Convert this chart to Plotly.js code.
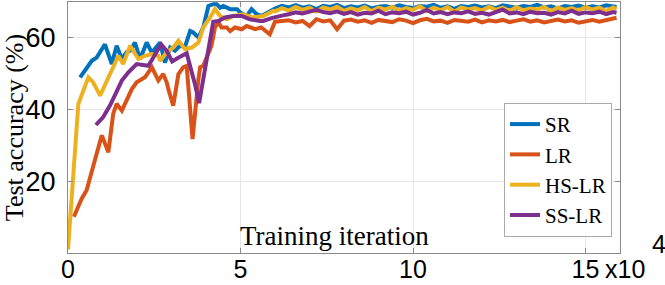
<!DOCTYPE html>
<html>
<head>
<meta charset="utf-8">
<script src="https://cdn.plot.ly/plotly-3.0.1.min.js"></script>
<style>html,body{margin:0;padding:0;background:#fff;}#chart{width:665px;height:285px;}</style>
</head>
<body>
<div id="chart"></div>
<script>
// x values are in units of 10^4 training iterations
var seriesNames = ["SR", "LR", "HS-LR", "SS-LR"];
var xTicks = [0, 5, 10, 15];
var xTickLabels = ["0", "5", "10", "15"];
var yTicks = [20, 40, 60];
var yTickLabels = ["20", "40", "60"];

var srXEarly = [0.35,0.49,0.69,0.83,0.93,1.07,1.27,1.41,1.56,1.70,1.80,1.94,2.09,2.28,2.43,2.57,2.67,2.81,2.96,3.10,3.25,3.39,3.54,3.63,3.78,3.92,4.07,4.21,4.31,4.41,4.50,4.70,4.90,4.99,5.18,5.32,5.47,5.61,5.85];
var srYEarly = [49.0,50.8,53.6,54.5,55.9,58.2,52.7,57.8,54.1,56.0,56.4,58.7,54.1,58.7,55.9,57.8,58.7,53.1,57.3,56.4,57.8,57.5,61.9,61.5,60.1,62.9,68.9,69.4,69.4,68.4,68.9,68.0,68.0,67.1,66.1,68.0,66.6,66.1,67.5];

var lrXEarly = [0.17,0.30,0.40,0.54,0.73,0.83,0.98,1.17,1.31,1.41,1.56,1.70,1.85,1.99,2.23,2.43,2.62,2.76,2.86,2.91,3.05,3.20,3.34,3.44,3.61,3.78,3.83,3.92,4.07,4.16,4.26,4.36,4.45,4.60,4.70,4.84,5.03,5.18,5.43,5.60,5.85];
var lrYEarly = [10.1,12.9,15.2,17.5,24.9,27.7,32.8,28.1,38.8,41.6,39.7,42.5,45.7,47.6,49.0,51.8,48.1,49.9,47.6,45.7,41.1,49.9,51.8,52.2,31.8,48.5,51.8,52.2,55.5,57.8,62.9,64.3,62.9,62.9,61.9,62.9,62.4,63.3,62.4,62.9,61.0];

var hsXEarly = [0.00,0.30,0.59,0.73,0.93,1.17,1.31,1.46,1.60,1.80,2.04,2.23,2.43,2.62,2.67,2.86,3.05,3.20,3.39,3.59,3.78,3.92,4.12,4.26,4.41,4.60,4.79,4.99,5.08,5.37,5.66,5.95];
var hsYEarly = [1.0,41.6,49.0,47.6,43.9,49.0,52.2,55.0,52.7,57.8,54.1,55.0,55.5,55.0,53.6,55.9,57.3,59.2,56.9,57.3,58.7,62.9,65.7,68.0,66.1,65.2,66.1,66.6,66.6,65.7,66.1,67.5];

var ssXEarly = [0.81,1.02,1.22,1.56,1.75,1.99,2.33,2.47,2.70,2.86,3.02,3.17,3.44,3.68,3.80,4.21,4.36,4.55,4.79,5.03,5.27,5.57,5.66,5.90];
var ssYEarly = [35.7,37.9,41.2,48.1,50.4,52.7,52.2,54.5,58.2,56.4,53.4,54.3,55.7,47.1,41.8,64.5,64.7,65.7,66.1,66.1,65.2,64.7,64.7,65.5];

var xLate = [6.0,6.2,6.4,6.6,6.8,7.0,7.2,7.4,7.6,7.8,8.0,8.2,8.4,8.6,8.8,9.0,9.2,9.4,9.6,9.8,10.0,10.2,10.4,10.6,10.8,11.0,11.2,11.4,11.6,11.8,12.0,12.2,12.4,12.6,12.8,13.0,13.2,13.4,13.6,13.8,14.0,14.2,14.4,14.6,14.8,15.0,15.2,15.4,15.6,15.8,15.9];
var srYLate = [68.2,68.9,68.5,69.1,68.4,68.8,68.0,68.9,68.6,69.2,68.3,68.8,68.5,69.0,68.2,68.7,68.9,68.4,69.1,68.6,68.3,68.9,68.7,69.2,68.4,68.8,68.1,68.9,68.6,69.0,68.5,68.8,68.3,69.1,68.7,68.4,68.9,68.6,69.2,68.5,68.8,68.2,68.9,68.6,69.0,68.4,68.8,68.5,69.1,68.7,68.6];
var lrYLate = [64.5,64.7,64.9,64.3,64.7,63.3,65.2,64.6,64.9,62.4,64.8,65.1,64.5,64.9,64.2,65.0,64.7,64.4,65.2,64.8,64.1,64.9,65.3,64.6,64.8,64.2,65.0,64.7,64.5,65.1,64.3,64.9,64.6,65.0,64.4,64.8,65.2,64.5,64.9,64.3,64.8,65.1,64.6,64.9,64.2,64.7,65.0,64.5,64.9,65.2,65.6];
var hsYLate = [67.4,68.3,67.6,68.6,67.8,68.4,67.3,68.5,67.9,68.7,67.5,68.2,67.7,68.6,67.4,68.4,67.9,68.7,67.6,68.3,67.8,68.8,67.5,68.4,67.7,68.6,67.3,68.5,67.9,68.3,67.6,68.7,67.8,68.4,67.5,68.6,67.7,68.2,67.9,68.7,67.4,68.5,67.8,68.3,67.6,68.6,67.9,68.4,67.5,68.5,68.0];
var ssYLate = [65.8,66.2,66.6,67.1,66.8,67.3,67.8,67.2,66.9,67.4,66.7,67.2,66.5,67.0,66.8,67.6,66.6,67.1,66.9,67.3,66.5,67.0,67.8,66.8,67.2,66.6,67.1,66.9,67.4,66.7,67.0,66.5,67.2,67.9,66.8,67.1,66.6,67.3,66.9,67.0,66.5,67.2,66.8,67.6,66.7,67.1,66.9,67.3,66.6,67.2,67.0];

var colors = ["#0072BD", "#D95319", "#EDB120", "#7E2F8E"];
var xs = [srXEarly.concat(xLate), lrXEarly.concat(xLate), hsXEarly.concat(xLate), ssXEarly.concat(xLate)];
var ys = [srYEarly.concat(srYLate), lrYEarly.concat(lrYLate), hsYEarly.concat(hsYLate), ssYEarly.concat(ssYLate)];

var traces = seriesNames.map(function (n, i) {
  return {x: xs[i], y: ys[i], name: n, type: "scatter", mode: "lines",
          line: {color: colors[i], width: 4}};
});

var serif = "Liberation Serif, Times New Roman, serif";
var sans = "Liberation Sans, Arial, sans-serif";
var axisCol = "#8a8a8a";

var layout = {
  width: 665, height: 285,
  margin: {l: 68, r: 45, t: 2, b: 32, pad: 0},
  paper_bgcolor: "#fff", plot_bgcolor: "#fff",
  showlegend: true,
  legend: {x: 0.9855, y: 0.064, xanchor: "right", yanchor: "bottom",
           bgcolor: "#fff", bordercolor: "#aaaaaa", borderwidth: 1,
           font: {family: serif, size: 21, color: "#000"}, tracegroupgap: 0},
  xaxis: {range: [0, 16], tickvals: xTicks, ticktext: xTickLabels,
          showgrid: true, gridcolor: "#e6e6e6", gridwidth: 1,
          showline: true, linecolor: axisCol, linewidth: 1, mirror: "ticks",
          ticks: "inside", ticklen: 5, tickcolor: axisCol, ticklabelstandoff: -6,
          zeroline: false, tickfont: {family: sans, size: 25, color: "#000"}},
  yaxis: {range: [0, 70], tickvals: yTicks, ticktext: yTickLabels,
          showgrid: true, gridcolor: "#e6e6e6", gridwidth: 1,
          showline: true, linecolor: axisCol, linewidth: 1, mirror: "ticks",
          ticks: "inside", ticklen: 5, tickcolor: axisCol, ticklabelstandoff: 6,
          zeroline: false, tickfont: {family: sans, size: 27, color: "#000"},
          title: {text: "Test accuracy (%)", font: {family: serif, size: 26, color: "#000"}, standoff: 2}},
  annotations: [
    {text: "Training iteration", xref: "paper", yref: "paper", x: 0.482, y: 0.068,
     xanchor: "center", yanchor: "middle", showarrow: false,
     font: {family: serif, size: 27, color: "#000"}},
    {text: "x10", xref: "paper", yref: "paper", x: (603 - 68) / 552, y: -0.065,
     xanchor: "left", yanchor: "middle", showarrow: false,
     font: {family: sans, size: 25, color: "#000"}},
    {text: "4", xref: "paper", yref: "paper", x: (650 - 68) / 552, y: 0.035,
     xanchor: "left", yanchor: "middle", showarrow: false,
     font: {family: sans, size: 25, color: "#000"}}
  ]
};

Plotly.newPlot("chart", traces, layout, {staticPlot: true, displayModeBar: false});
</script>
</body>
</html>
